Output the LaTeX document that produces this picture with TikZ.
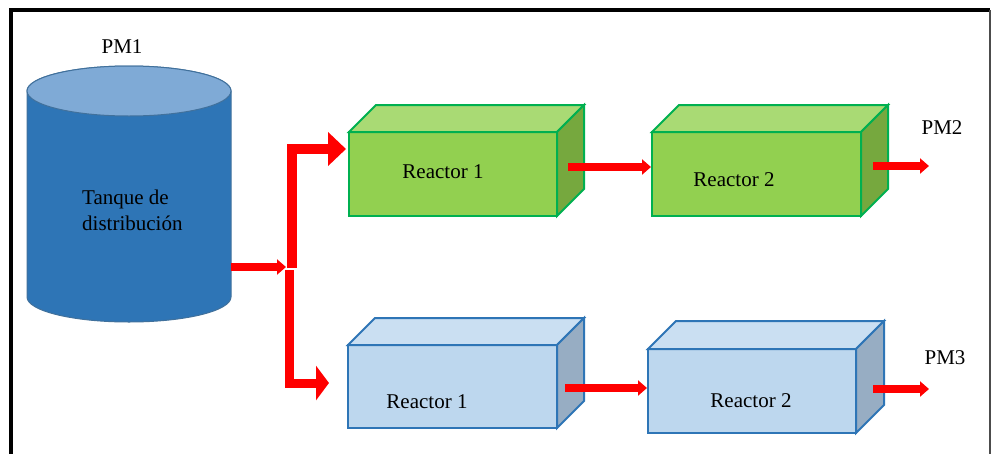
\documentclass[tikz,border=0pt]{standalone}
\usepackage{fontspec}
\setmainfont{Liberation Serif}
\usetikzlibrary{arrows.meta,calc}
\definecolor{tankbody}{HTML}{2E75B6}
\definecolor{tanktop}{HTML}{7FAAD6}
\definecolor{tankline}{HTML}{41719C}
\definecolor{gfront}{HTML}{92D050}
\definecolor{gtop}{HTML}{A9DA74}
\definecolor{gside}{HTML}{76A83E}
\definecolor{gline}{HTML}{00B050}
\definecolor{bfront}{HTML}{BDD7EE}
\definecolor{btop}{HTML}{CADFF2}
\definecolor{bside}{HTML}{97ADC3}
\definecolor{bline}{HTML}{2E75B6}
\newcommand\cubefaces[5]{%
  \filldraw[fill=#2, draw=#4, line width=2pt] (#1.north west) -- ++(#5,-#5) -- ($(#1.north east)+(#5,-#5)$) -- (#1.north east) -- cycle;
  \filldraw[fill=#3, draw=#4, line width=2pt] (#1.north east) -- ++(#5,-#5) -- ($(#1.south east)+(#5,-#5)$) -- (#1.south east) -- cycle;
}
\begin{document}
\begin{tikzpicture}[x=1pt,y=-1pt,
  lbl/.style={font=\fontsize{21}{26}\selectfont, inner sep=0pt},
  gbox/.style={draw=gline, fill=gfront, line width=2pt, inner sep=0pt, outer sep=0pt},
  bbox/.style={draw=bline, fill=bfront, line width=2pt, inner sep=0pt, outer sep=0pt},
  flow/.style={draw=red, line width=7.5pt, -{Triangle[length=9pt,width=15pt]}},
  flowtop/.style={draw=red, line width=10pt, -{Triangle[length=18pt,width=33pt]}},
  flowbot/.style={draw=red, line width=9pt, -{Triangle[length=13pt,width=34pt]}}]
\useasboundingbox (0,0) rectangle (993,453);
\fill[white] (0,0) rectangle (993,453);
% frame
\draw[line width=3.5pt] (11,460) -- (11,10) -- (990,10);
\draw[line width=2pt, black!70] (990,10) -- (990,460);
% tank
\node[minimum width=204pt, minimum height=206pt, inner sep=0pt, outer sep=0pt] (tank) at (129,194) {};
\filldraw[fill=tankbody, draw=tankline, line width=1pt] (tank.north west) -- (tank.south west)
  arc[start angle=180, end angle=360, x radius=102pt, y radius=25pt] -- (tank.north east)
  arc[start angle=0, end angle=180, x radius=102pt, y radius=25pt] -- cycle;
\filldraw[fill=tanktop, draw=tankline, line width=1pt] (tank.north) ellipse[x radius=102pt, y radius=25pt];
\node[lbl, align=left, anchor=west] (tankt) at (82,210) {Tanque de\\distribución};
\node[lbl] (pm1) at (122,47) {PM1};
% green reactors
\node[gbox, minimum width=208pt, minimum height=84pt] (g1) at (453,174) {};
\cubefaces{g1}{gtop}{gside}{gline}{27}
\node[gbox, minimum width=209pt, minimum height=84pt] (g2) at (756.5,174) {};
\cubefaces{g2}{gtop}{gside}{gline}{27}
\node[lbl] (g1t) at (443,172) {Reactor 1};
\node[lbl] (g2t) at (734,180) {Reactor 2};
\node[lbl] (pm2) at (942,128) {PM2};
% blue reactors
\node[bbox, minimum width=209pt, minimum height=83pt] (b1) at (452.5,386.5) {};
\cubefaces{b1}{btop}{bside}{bline}{27}
\node[bbox, minimum width=208pt, minimum height=84pt] (b2) at (752,391) {};
\cubefaces{b2}{btop}{bside}{bline}{28}
\node[lbl] (b1t) at (427,402) {Reactor 1};
\node[lbl] (b2t) at (751,401) {Reactor 2};
\node[lbl] (pm3) at (945,358) {PM3};
% flows
\coordinate (tip0) at (286,267);
\coordinate (splitA) at (292,268);
\coordinate (splitB) at (289,270);
\coordinate (o2) at (929,166);
\coordinate (o3) at (929,389);
\draw[flow] (tank.east |- tip0) -- (tip0);
\draw[flowtop] (splitA) |- ([shift={(-3,-25)}]g1.west);
\draw[flowbot] (splitB) |- ([shift={(-19,-3.5)}]b1.west);
\draw[flow] ([shift={(11,-7)}]g1.east) -- ([shift={(-1,-7)}]g2.west);
\draw[flow] ([shift={(12,-8)}]g2.east) -- (o2);
\draw[flow] ([shift={(8,1.5)}]b1.east) -- ([shift={(-1,-3)}]b2.west);
\draw[flow] ([shift={(17,-2)}]b2.east) -- (o3);
\end{tikzpicture}
\end{document}
